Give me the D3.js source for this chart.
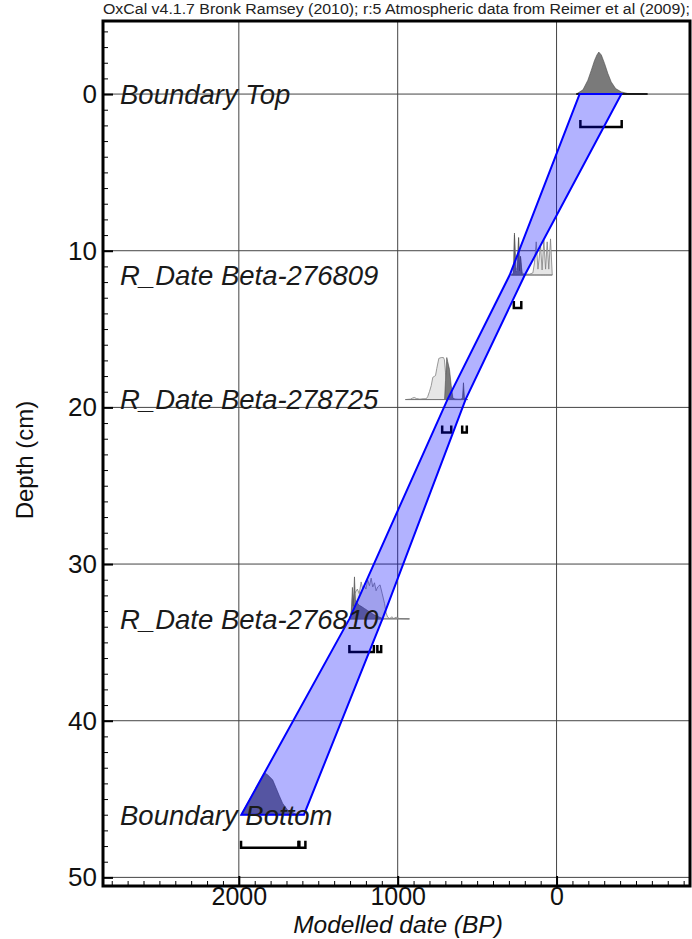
<!DOCTYPE html>
<html><head><meta charset="utf-8">
<script src="https://cdn.jsdelivr.net/npm/d3@7"></script>
<style>
body{margin:0;background:#fff;}
text{font-family:"Liberation Sans",Arial,sans-serif;}
</style></head><body>
<svg id="chart" width="692" height="939"></svg>
<script>
// sample labels and their depths (cm)
const names = ["Boundary Top", "R_Date Beta-276809", "R_Date Beta-278725", "R_Date Beta-276810", "Boundary Bottom"];
const depths = [0, 11.55, 19.5, 33.5, 46];

// 95% age-depth envelope (BP)
const bandDepth = [0, 11.55, 19.5, 33.5, 46];
const bandOld = [-145, 295, 687, 1304, 1984];
const bandYoung = [-408, 200, 573, 1096, 1590];

// distributions: [age BP, relative probability]
const postTop = [[-124,0],[-166,0.1],[-197,0.33],[-219,0.57],[-239,0.8],[-254,0.93],[-266,1.0],[-282,0.93],[-302,0.73],[-323,0.49],[-344,0.29],[-372,0.13],[-408,0.05],[-447,0.015],[-573,0]];

const like276809 = [[285,0],[271,0.05],[265,0.95],[255,0.12],[246,0.19],[239,0.9],[233,0.14],[227,0.43],[217,0.05],[202,0.02],[170,0.02],[149,0.05],[139,0.29],[128,0.79],[117,0.14],[101,0.71],[91,0.12],[80,0.83],[69,0.14],[59,0.79],[49,0.14],[38,0.86],[27,0]];
const post276809 = [[283,0],[270,0.04],[265,1.0],[258,0.08],[246,0.12],[239,0.88],[233,0.1],[227,0.45],[218,0.03],[205,0]];

const like278725 = [[951,0],[920,0.01],[907,0.035],[895,0.05],[882,0.025],[860,0.01],[840,0.02],[820,0.02],[811,0.07],[800,0.19],[789,0.33],[779,0.53],[770,0.55],[762,0.57],[754,0.74],[741,0.98],[726,1.0],[712,1.0],[706,0.95],[699,0.64],[691,0.43],[680,0.14],[670,0.05],[650,0.02],[620,0.01],[590,0.01],[559,0]];
const post278725 = [[705,0],[699,0.45],[691,1.0],[685,0.9],[674,0.72],[663,0.33],[653,0.05],[640,0],[600,0],[592,0.05],[586,0.4],[580,0.05],[573,0]];

const like276810 = [[1304,0],[1293,0.12],[1282,0.36],[1272,0.6],[1262,0.66],[1254,0.71],[1242,0.6],[1230,0.88],[1220,0.71],[1209,0.79],[1200,0.71],[1189,0.93],[1178,0.79],[1167,0.97],[1157,0.76],[1146,0.86],[1136,0.67],[1126,0.76],[1111,0.81],[1098,0.61],[1083,0.37],[1073,0.14],[1063,0.04],[1050,0.01],[1036,0.05],[1025,0.01],[1010,0.04],[990,0.01],[926,0]];
const post276810 = [[1300,0],[1292,0.2],[1285,0.75],[1280,0.3],[1272,1.0],[1266,0.45],[1258,0.4],[1245,0.33],[1230,0.3],[1210,0.25],[1190,0.2],[1170,0.15],[1150,0.1],[1120,0.05],[1090,0]];

const postBottom = [[1986,0],[1930,0.38],[1880,0.72],[1839,1.0],[1819,0.95],[1787,0.83],[1766,0.64],[1745,0.45],[1724,0.27],[1693,0.11],[1640,0.016],[1587,0]];

// 95% ranges (BP)
const rangeTop = [[-150,-410]];
const range276809 = [[269,222]];
const range278725 = [[720,663],[594,565]];
const range276810 = [[1304,1150],[1128,1104]];
const rangeBottom = [[1986,1625],[1619,1581]];

const xMajor = [2000, 1000, 0];
const yMajor = [0, 10, 20, 30, 40, 50];

const svg = d3.select("#chart");
const pL = 103, pR = 690, pT = 21, pB = 886;

const x = d3.scaleLinear().domain([2855, -840]).range([pL, pR]);
const y = d3.scaleLinear().domain([-4.664, 50.55]).range([pT, pB]);
const h = d3.scaleLinear().domain([0, 1]).range([0, 42]);

// header
svg.append("text")
  .attr("x", pL).attr("y", 14)
  .attr("font-size", 14).attr("fill", "#222")
  .attr("textLength", pR - pL).attr("lengthAdjust", "spacingAndGlyphs")
  .text("OxCal v4.1.7 Bronk Ramsey (2010); r:5 Atmospheric data from Reimer et al (2009);");

// grid
const grid = svg.append("g").attr("stroke", "#444").attr("stroke-width", 1);
grid.selectAll(".gx").data(xMajor).join("line")
  .attr("x1", d => x(d)).attr("x2", d => x(d))
  .attr("y1", pT).attr("y2", pB);
grid.selectAll(".gy").data(yMajor).join("line")
  .attr("x1", pL).attr("x2", pR)
  .attr("y1", d => y(d)).attr("y2", d => y(d));

// distributions
const dists = [
  {like: null, post: postTop, ranges: rangeTop},
  {like: like276809, post: post276809, ranges: range276809},
  {like: like278725, post: post278725, ranges: range278725},
  {like: like276810, post: post276810, ranges: range276810},
  {like: null, post: postBottom, ranges: rangeBottom}
];

const g = svg.append("g");
dists.forEach((d, i) => {
  const base = y(depths[i]);
  const area = d3.area()
    .x(p => x(p[0]))
    .y0(base)
    .y1(p => base - h(p[1]));
  if (d.like) {
    g.append("path").datum(d.like).attr("d", area)
      .attr("fill", "#e6e6e6").attr("stroke", "#808080").attr("stroke-width", 0.8);
  }
  g.append("path").datum(d.post).attr("d", area)
    .attr("fill", "#7a7a7a").attr("stroke", "#4a4a4a").attr("stroke-width", 0.6);
  const all = (d.like || []).concat(d.post);
  const ext = d3.extent(all, p => p[0]);
  g.append("line")
    .attr("x1", x(ext[1])).attr("x2", x(ext[0]))
    .attr("y1", base).attr("y2", base)
    .attr("stroke", i === 0 ? "#000" : "#777").attr("stroke-width", i === 0 ? 1.5 : 1);
  // range brackets
  g.selectAll(null).data(d.ranges).join("path")
    .attr("d", r => `M${x(r[0])},${base + 26}V${base + 33}H${x(r[1])}V${base + 26}`)
    .attr("fill", "none").attr("stroke", "#000").attr("stroke-width", 2.5);
});

// age-depth envelope
const bandPts = bandDepth.map((dep, i) => [x(bandOld[i]), y(dep)])
  .concat(bandDepth.map((dep, i) => [x(bandYoung[i]), y(dep)]).reverse());
svg.append("path")
  .attr("d", "M" + bandPts.join("L") + "Z")
  .attr("fill", "rgba(0,0,255,0.3)").attr("stroke", "#0000ff").attr("stroke-width", 2);

// sample labels
svg.selectAll(".lab").data(names).join("text")
  .attr("x", 120).attr("y", (d, i) => y(depths[i]))
  .attr("dy", "0.36em")
  .attr("font-size", 27.5).attr("font-style", "italic").attr("fill", "#1a1a1a")
  .text(d => d);

// axes
const xMinor = d3.range(2800, -900, -100).filter(v => !xMajor.includes(v));
const yMinor = d3.range(-4, 51, 1).filter(v => !yMajor.includes(v));

svg.append("g").attr("transform", `translate(0,${pB})`)
  .call(d3.axisBottom(x).tickValues(xMinor).tickSize(-5).tickFormat(""))
  .call(a => a.select(".domain").remove());
svg.append("g").attr("transform", `translate(0,${pB})`)
  .call(d3.axisBottom(x).tickValues(xMajor).tickSize(-10).tickPadding(1).tickFormat(d3.format("d")))
  .call(a => a.select(".domain").remove())
  .call(a => a.selectAll("line").attr("stroke-width", 2))
  .call(a => a.selectAll("text").attr("font-size", 25).attr("fill", "#111")
    .attr("font-family", "Liberation Sans, Arial, sans-serif"));

svg.append("g").attr("transform", `translate(${pL},0)`)
  .call(d3.axisLeft(y).tickValues(yMinor).tickSize(-5).tickFormat(""))
  .call(a => a.select(".domain").remove());
svg.append("g").attr("transform", `translate(${pL},0)`)
  .call(d3.axisLeft(y).tickValues(yMajor).tickSize(-10).tickPadding(6).tickFormat(d3.format("d")))
  .call(a => a.select(".domain").remove())
  .call(a => a.selectAll("line").attr("stroke-width", 2))
  .call(a => a.selectAll("text").attr("font-size", 26).attr("fill", "#111")
    .attr("font-family", "Liberation Sans, Arial, sans-serif"));

// frame
svg.append("rect")
  .attr("x", pL).attr("y", pT).attr("width", pR - pL).attr("height", pB - pT)
  .attr("fill", "none").attr("stroke", "#000").attr("stroke-width", 3);

// axis titles
svg.append("text")
  .attr("x", 398).attr("y", 933)
  .attr("text-anchor", "middle").attr("font-size", 24.5).attr("font-style", "italic").attr("fill", "#111")
  .text("Modelled date (BP)");
svg.append("text")
  .attr("transform", "translate(33,460) rotate(-90)")
  .attr("text-anchor", "middle").attr("font-size", 24).attr("fill", "#111")
  .text("Depth (cm)");
</script>
</body></html>
